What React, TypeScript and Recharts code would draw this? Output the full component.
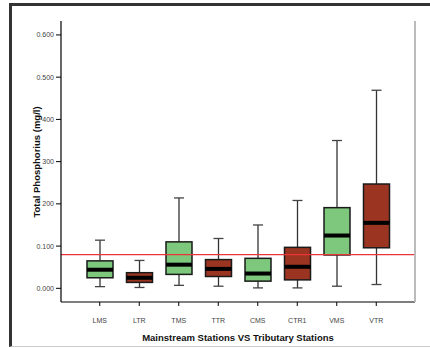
import { ComposedChart, Bar, XAxis, YAxis, ReferenceLine, Label } from 'recharts';

const stations = ['LMS', 'LTR', 'TMS', 'TTR', 'CMS', 'CTR1', 'VMS', 'VTR'];
const stationType = ['main', 'trib', 'main', 'trib', 'main', 'trib', 'main', 'trib'];
const whiskerLow = [0.004, 0.002, 0.007, 0.005, 0.001, 0.001, 0.005, 0.009];
const q1 = [0.025, 0.014, 0.033, 0.028, 0.017, 0.02, 0.079, 0.096];
const medians = [0.044, 0.025, 0.056, 0.046, 0.035, 0.051, 0.125, 0.155];
const q3 = [0.065, 0.037, 0.11, 0.068, 0.071, 0.097, 0.191, 0.247];
const whiskerHigh = [0.114, 0.066, 0.214, 0.118, 0.15, 0.208, 0.35, 0.469];

const yTicks = [0, 0.1, 0.2, 0.3, 0.4, 0.5, 0.6];
const yTickLabels = ['0.000', '0.100', '200', '300', '400', '0.500', '0.600'];
const limitValue = 0.08;

const colors: Record<string, string> = { main: '#7ec87e', trib: '#9b3521' };
const font = '"Liberation Sans", Arial, sans-serif';

const data = stations.map((name, i) => ({
  name,
  type: stationType[i],
  low: whiskerLow[i],
  q1: q1[i],
  median: medians[i],
  q3: q3[i],
  high: whiskerHigh[i],
}));

// the bar spans low..high; the rest is placed inside it by the same scale
function BoxShape(props: any) {
  const { x, y, width, height, payload } = props;
  const { low, high } = payload;
  const py = (v: number) => y + ((high - v) / (high - low)) * height;
  const cx = x + width / 2;
  const cap = 5;
  const top = py(payload.q3);
  const bottom = py(payload.q1);
  const med = py(payload.median);
  return (
    <g>
      <line x1={cx} x2={cx} y1={py(high)} y2={top} stroke="#333" strokeWidth={1.3} />
      <line x1={cx} x2={cx} y1={bottom} y2={py(low)} stroke="#333" strokeWidth={1.3} />
      <line x1={cx - cap} x2={cx + cap} y1={py(high)} y2={py(high)} stroke="#444" strokeWidth={1.3} />
      <line x1={cx - cap} x2={cx + cap} y1={py(low)} y2={py(low)} stroke="#444" strokeWidth={1.3} />
      <rect
        x={x}
        y={top}
        width={width}
        height={bottom - top}
        fill={colors[payload.type]}
        stroke="#1a1a1a"
        strokeWidth={1.5}
      />
      <rect x={x} y={med - 2} width={width} height={4} fill="#000" />
    </g>
  );
}

export default function App() {
  return (
    <div style={{ position: 'fixed', left: 0, top: 0, width: 430, height: 348, background: '#fff' }}>
      <div
        style={{
          position: 'absolute',
          left: 9,
          top: 3,
          width: 421,
          height: 340,
          borderLeft: '3px solid #333',
          borderTop: '3px solid #333',
          borderBottom: '1px solid #ccc',
        }}
      />
      <div style={{ position: 'absolute', left: 0, top: 0 }}>
        <ComposedChart
          width={430}
          height={348}
          data={data}
          margin={{ top: 21, right: 14, bottom: 0, left: 0 }}
        >
          <XAxis
            dataKey="name"
            xAxisId="bottom"
            height={46}
            padding={{ left: 19, right: 19 }}
            axisLine={{ stroke: '#000', strokeWidth: 1.2 }}
            tickLine={{ stroke: '#000' }}
            tickSize={4}
            tickMargin={12}
            tick={{ fontSize: 7, fill: '#444', fontFamily: font }}
            interval={0}
          >
            <Label
              content={() => (
                <text
                  x={238}
                  y={341}
                  textAnchor="middle"
                  fontSize={9.5}
                  fontWeight="bold"
                  fontFamily={font}
                  fill="#111"
                >
                  Mainstream Stations VS Tributary Stations
                </text>
              )}
            />
          </XAxis>
          <XAxis
            dataKey="name"
            xAxisId="top"
            orientation="top"
            height={0}
            tick={false}
            tickLine={false}
            axisLine={{ stroke: '#999' }}
          />
          <YAxis
            yAxisId="left"
            width={61}
            type="number"
            domain={[-0.0324, 0.633]}
            ticks={yTicks}
            allowDataOverflow
            tickFormatter={(v: number) => yTickLabels[yTicks.indexOf(v)] ?? ''}
            axisLine={{ stroke: '#000', strokeWidth: 1.2 }}
            tickLine={{ stroke: '#000' }}
            tickSize={5}
            tickMargin={2}
            tick={{ fontSize: 7, fill: '#444', fontFamily: font }}
          >
            <Label
              content={() => (
                <text
                  x={40}
                  y={162}
                  textAnchor="middle"
                  transform="rotate(-90, 40, 162)"
                  fontSize={9.5}
                  fontWeight="bold"
                  fontFamily={font}
                  fill="#111"
                >
                  Total Phosphorius (mg/l)
                </text>
              )}
            />
          </YAxis>
          <YAxis
            yAxisId="right"
            orientation="right"
            width={1}
            domain={[-0.0324, 0.633]}
            tick={false}
            tickLine={false}
            axisLine={{ stroke: '#bbb', strokeWidth: 2 }}
          />
          <ReferenceLine
            y={limitValue}
            xAxisId="bottom"
            yAxisId="left"
            stroke="#e8353a"
            strokeWidth={1.2}
          />
          <Bar
            xAxisId="bottom"
            yAxisId="left"
            dataKey={(d: any) => [d.low, d.high]}
            barSize={26}
            shape={BoxShape}
            isAnimationActive={false}
          />
        </ComposedChart>
      </div>
    </div>
  );
}
